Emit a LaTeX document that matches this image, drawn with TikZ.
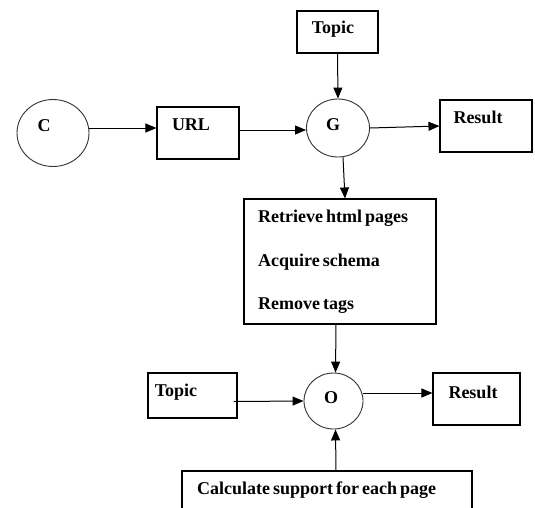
\documentclass[tikz,border=0pt]{standalone}
\usepackage{fontspec}
\setmainfont{Liberation Serif}
\usetikzlibrary{shapes.geometric,arrows.meta}
\newcommand{\lblfont}{\fontsize{18}{20}\selectfont\bfseries\spaceskip=3pt plus 1pt\relax}
\begin{document}
\begin{tikzpicture}[x=1pt,y=-1pt,
  box/.style={draw,line width=1.1pt,rectangle,inner sep=0pt},
  circ/.style={draw,line width=0.9pt,ellipse,inner sep=0pt,draw=black!80},
  lbl/.style={font=\lblfont,inner sep=0pt},
  arr/.style={line width=1pt,-{Triangle[length=11pt,width=9pt]}},
  ln/.style={line width=1pt}]
\useasboundingbox (0,0) rectangle (535,507);
\clip (0,0) rectangle (535,507);
% shapes
\node[circ,minimum width=72pt,minimum height=67pt] (C) at (53,133) {};
\node[box,minimum width=82pt,minimum height=52pt] (URL) at (198,133) {};
\node[circ,minimum width=63pt,minimum height=58pt] (G) at (338,128) {};
\node[box,minimum width=81pt,minimum height=42pt] (TT) at (337.5,32) {};
\node[box,minimum width=92pt,minimum height=52pt] (R1) at (486,126) {};
\node[box,minimum width=192pt,minimum height=125pt] (B) at (340,261.5) {};
\node[circ,minimum width=59pt,minimum height=56pt] (O) at (333.5,401) {};
\node[box,minimum width=89pt,minimum height=45pt] (TB) at (192.5,395.5) {};
\node[box,minimum width=87pt,minimum height=52pt] (R2) at (476.5,399) {};
\node[box,minimum width=290pt,minimum height=49pt] (CS) at (327,495.5) {};
% texts
\node[lbl] (tC) at (44,126) {C};
\node[lbl] (tURL) at (191,125) {URL};
\node[lbl] (tG) at (333,125) {G};
\node[lbl] (tTT) at (333,29) {Topic};
\node[lbl] (tR1) at (478,117) {Result};
\node[lbl,anchor=west] (tB1) at (258,218) {Retrieve html pages};
\node[lbl,anchor=west] (tB2) at (258,262) {Acquire schema};
\node[lbl,anchor=west] (tB3) at (258,306) {Remove tags};
\node[lbl] (tTB) at (176,392) {Topic};
\node[lbl] (tO) at (331,398) {O};
\node[lbl] (tR2) at (473,392) {Result};
\node[lbl,anchor=west] (tCS) at (197,490) {Calculate support for each page};
% connectors
\draw[arr] ([yshift=5pt]C.east) -- ([yshift=5pt]URL.west);
\draw[arr] ([yshift=3pt]URL.east) -- ([yshift=-2pt]G.west);
\draw[arr] (G.east) -- (R1.west);
\draw[arr] (TT.south) -- (G.north);
\draw[arr] ([xshift=5pt]G.south) -- ([xshift=5pt]B.north);
\draw[arr] ([xshift=-4pt]B.south) -- ([xshift=2pt]O.north);
\draw[arr] ([xshift=-4pt,yshift=-6pt]TB.east) -- (O.west);
\draw[arr] ([yshift=8pt]O.east) -- ([yshift=6pt]R2.west);
\draw[arr] ([xshift=9pt]CS.north) -- ([xshift=2pt]O.south);
\end{tikzpicture}
\end{document}
